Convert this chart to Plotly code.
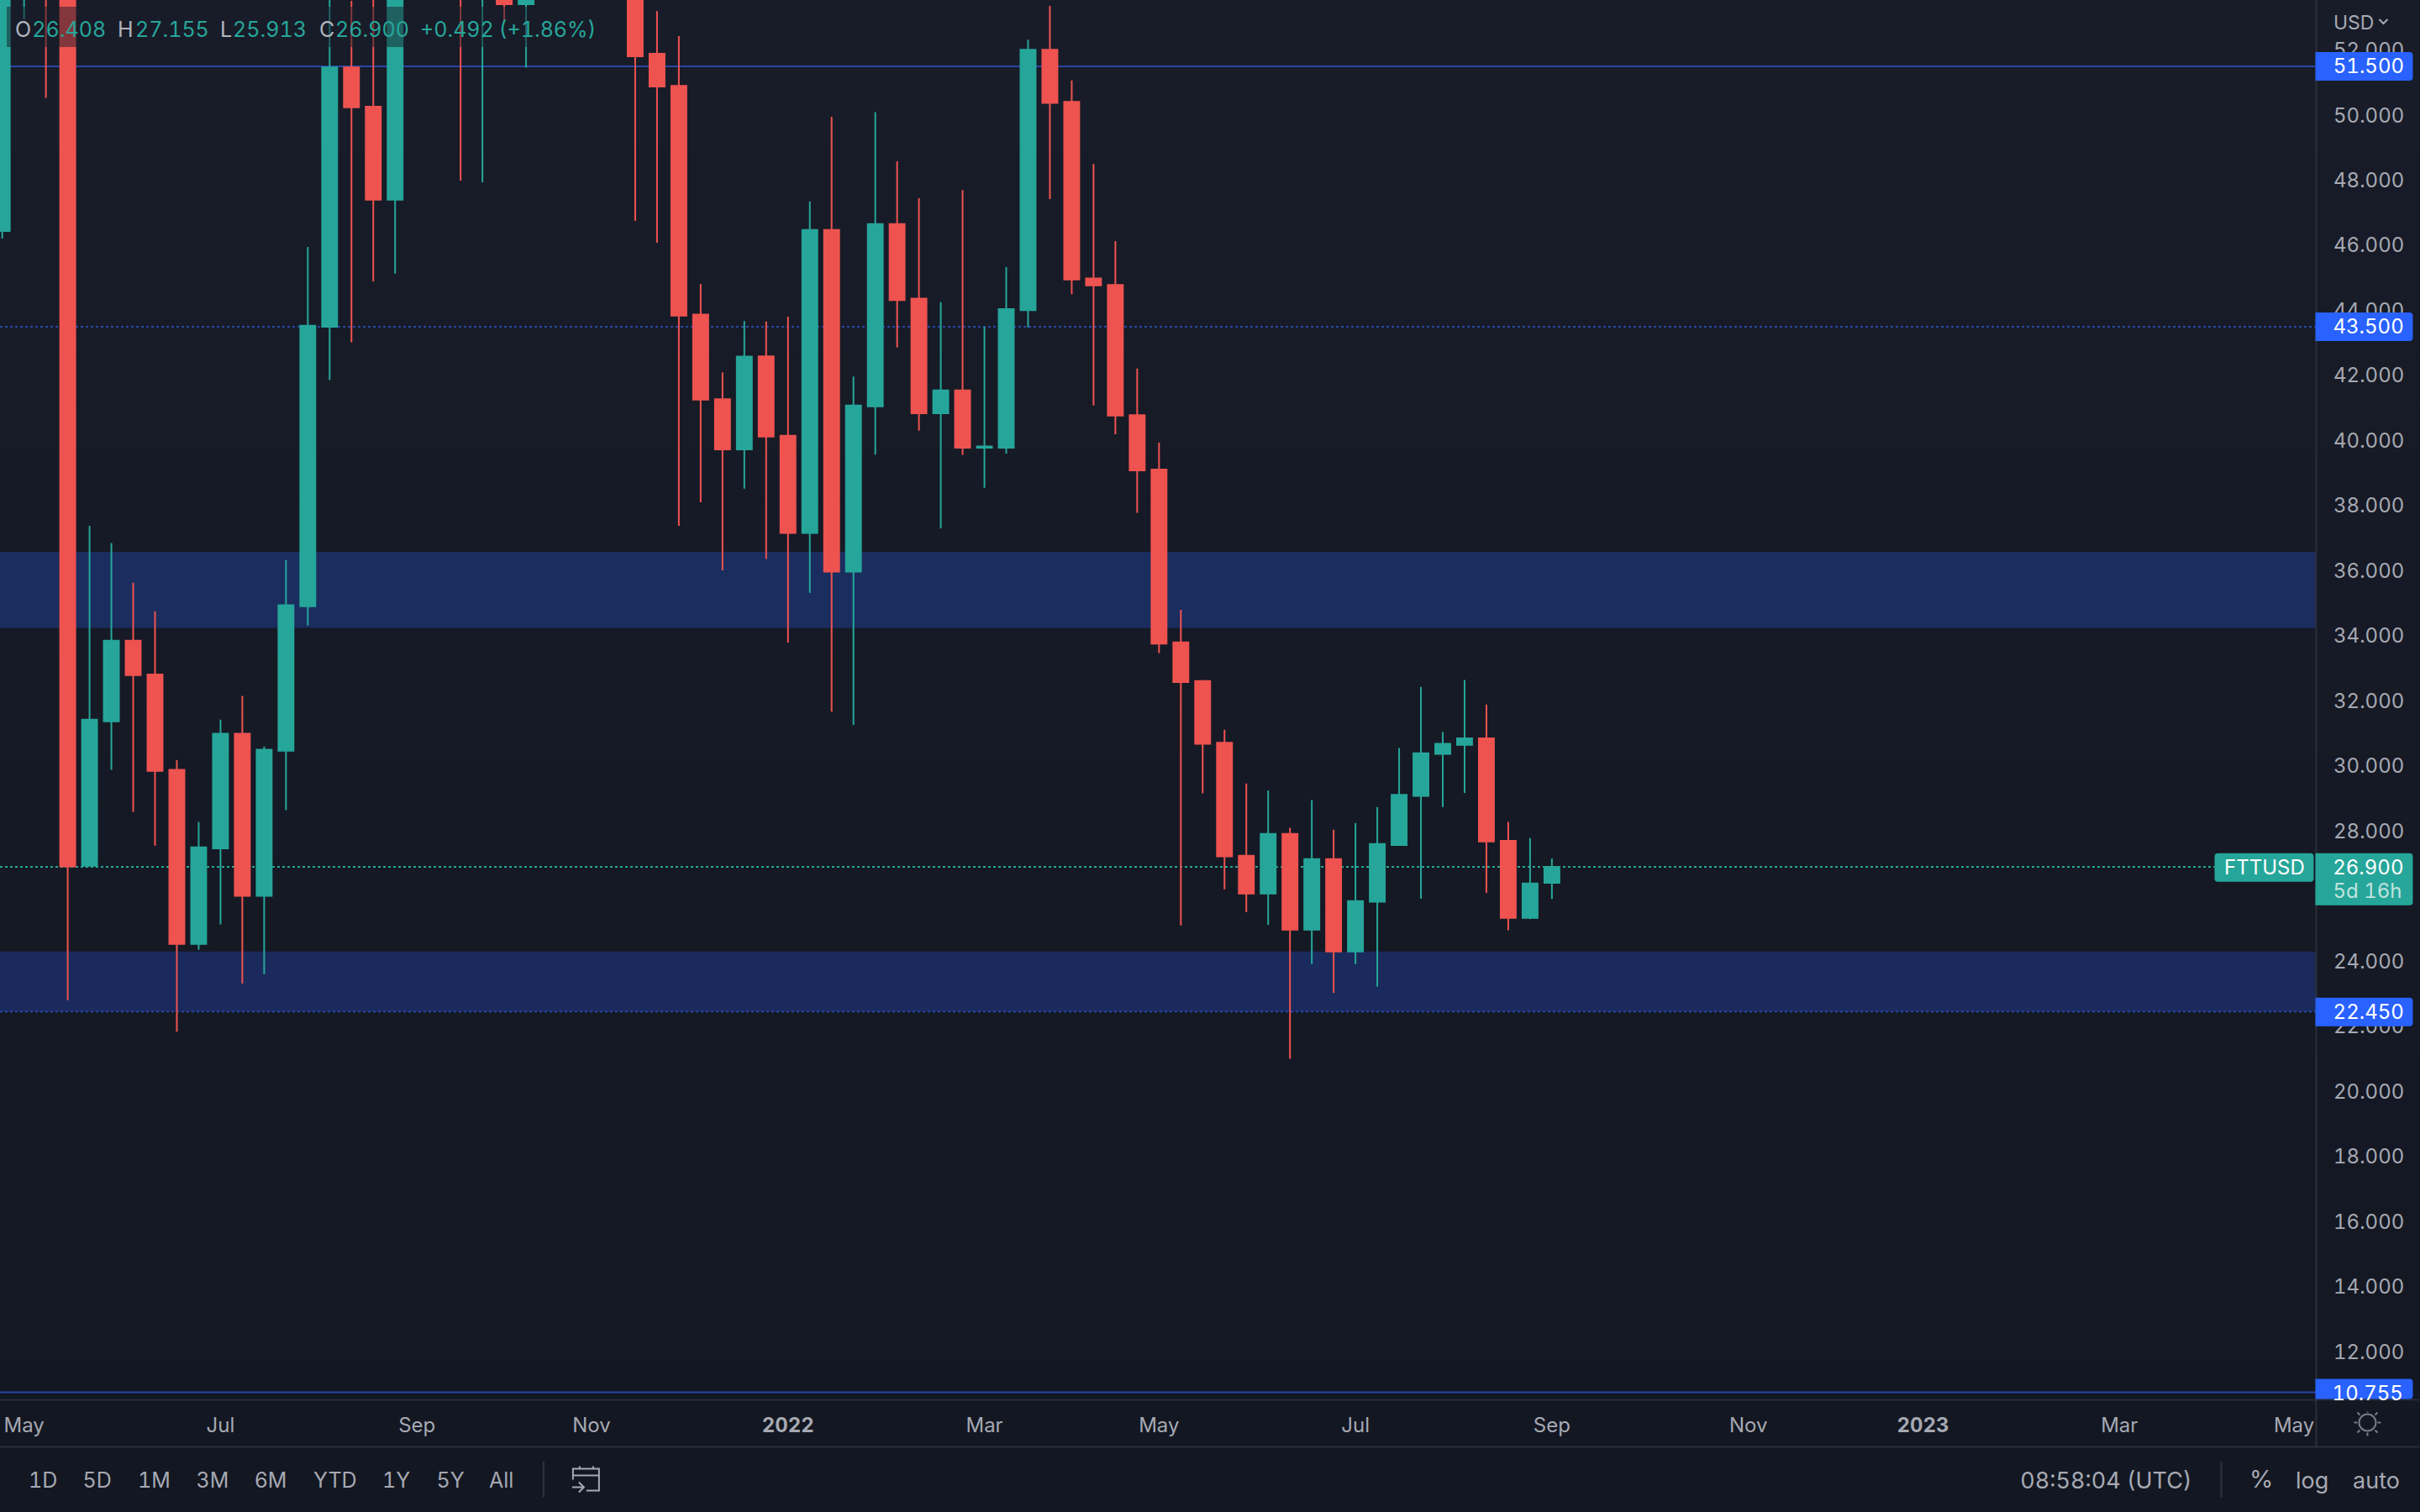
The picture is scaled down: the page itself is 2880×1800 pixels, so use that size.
import plotly.graph_objects as go

# Weekly candles that are at least partly inside the view (USD). Parts above the top edge are estimates.
dates = ["2021-04-19","2021-04-26","2021-05-03","2021-05-10","2021-05-17","2021-05-24","2021-05-31","2021-06-07","2021-06-14","2021-06-21","2021-06-28","2021-07-05","2021-07-12","2021-07-19","2021-07-26","2021-08-02","2021-08-09","2021-08-16","2021-08-23",
 "2021-09-13","2021-09-20","2021-09-27","2021-10-04",
 "2021-11-08","2021-11-15","2021-11-22","2021-11-29","2021-12-06","2021-12-13","2021-12-20","2021-12-27","2022-01-03","2022-01-10","2022-01-17","2022-01-24","2022-01-31","2022-02-07","2022-02-14","2022-02-21","2022-02-28","2022-03-07","2022-03-14","2022-03-21","2022-03-28","2022-04-04","2022-04-11","2022-04-18","2022-04-25","2022-05-02","2022-05-09","2022-05-16","2022-05-23","2022-05-30","2022-06-06","2022-06-13","2022-06-20","2022-06-27","2022-07-04","2022-07-11","2022-07-18","2022-07-25","2022-08-01","2022-08-08","2022-08-15","2022-08-22","2022-08-29"]
opens = [46.44,54.0,56.0,55.5,26.93,31.37,33.85,32.81,29.88,24.53,27.47,30.99,26.01,30.47,34.91,43.50,51.47,50.26,47.40,
 55.5,54.0,54.2,53.41,
 54.0,51.89,50.90,43.87,41.27,39.73,42.59,40.15,37.16,46.47,35.97,41.05,46.65,44.36,40.84,41.54,39.78,39.78,44.01,52.01,50.41,44.98,44.78,40.78,39.11,33.80,32.61,30.71,27.24,26.08,27.91,24.97,27.14,24.30,25.83,27.57,29.08,30.37,30.65,30.85,27.70,25.33,26.408]
highs = [54.5,55.5,57.0,56.0,37.38,36.85,35.63,34.75,30.18,28.28,31.42,32.15,30.60,36.33,45.95,54.5,53.51,54.5,55.0,
 56.0,56.0,55.0,55.0,
 55.0,53.20,52.43,44.81,42.10,43.67,43.66,43.81,47.35,49.95,41.97,50.09,48.58,47.45,44.25,47.70,43.50,45.33,52.32,53.36,51.07,48.50,46.13,42.21,39.94,34.80,32.64,31.11,29.46,29.25,28.10,28.95,28.04,28.25,28.74,30.55,32.43,31.04,32.64,31.89,28.28,27.78,27.155]
lows = [46.21,52.95,50.53,22.80,26.93,29.88,28.59,27.55,21.83,24.35,25.13,23.32,23.60,28.64,34.32,41.86,43.02,44.89,45.13,
 47.99,47.94,52.84,51.46,
 46.75,46.08,37.38,38.10,36.01,38.52,36.36,33.79,35.32,31.67,31.26,39.57,42.86,40.30,37.30,39.56,38.55,39.60,43.48,47.42,44.50,41.08,40.19,37.78,33.47,25.10,29.16,26.21,25.51,25.12,21.00,23.91,23.03,23.91,23.22,27.57,25.92,28.74,29.17,26.10,24.95,25.29,25.913]
closes = [54.0,55.0,54.5,26.91,31.42,33.85,32.79,29.85,24.53,27.50,30.99,26.01,30.50,34.94,43.53,51.47,50.24,47.40,54.2,
 54.0,55.5,53.41,54.2,
 51.81,50.88,43.84,41.26,39.73,42.58,40.12,37.16,46.47,35.97,41.08,46.65,44.32,40.84,41.54,39.78,39.82,44.04,52.01,50.38,44.95,44.77,40.77,39.08,33.76,32.58,30.68,27.22,26.08,27.91,24.97,27.14,24.30,25.85,27.60,29.11,30.39,30.68,30.85,27.68,25.33,26.39,26.900]

price_ticks = [12,14,16,18,20,22,24,26,28,30,32,34,36,38,40,42,44,46,48,50,52]
time_tick_dates = ["2021-04-26","2021-06-28","2021-08-30","2021-10-25","2021-12-27","2022-02-28","2022-04-25","2022-06-27","2022-08-29","2022-10-31","2022-12-26","2023-02-27","2023-04-24"]
time_tick_text = ["May","Jul","Sep","Nov","<b>2022</b>","Mar","May","Jul","Sep","Nov","<b>2023</b>","Mar","May"]
zones = [(34.24,36.58,"#1b2d5f"),(22.45,24.30,"#1a2a5c")]
solid_levels = [51.5,10.755]
dotted_levels = [43.5,22.45]
last_price = 26.9
toolbar_left = [("1D",51),("5D",116),("1M",184),("3M",253),("6M",322),("YTD",399),("1Y",472),("5Y",536),("All",597)]
ohlc_parts = [("O",17,"#b2b5be"),("26.408",39,"#26a69a"),("H",139,"#b2b5be"),("27.155",168,"#26a69a"),("L",261,"#b2b5be"),("25.913",281,"#26a69a"),("C",379,"#b2b5be"),("26.900",400,"#26a69a"),("+0.492",500,"#26a69a"),("(+1.86%)",597,"#26a69a")]

W, H = 2756.5, 1666.5
FONT = "Inter"
GREY = "#a6a9b2"
BLUE = "#2962ff"
TEAL = "#26a69a"
LINE = "#2a2e39"
LEVEL = "#2946a5"
xp = lambda x: x / W
yp = lambda y: 1 - y / H

shapes, notes = [], []

# background gradient
steps = 30
for k in range(steps):
    t = (k + .5) / steps
    c = (round(24 - 5*t), round(28 - 5*t), round(40 - 6*t))
    shapes.append(dict(type="rect", xref="paper", yref="paper", x0=0, x1=xp(2880),
                       y0=yp(1800*k/steps), y1=yp(1800*(k+1)/steps), layer="below",
                       fillcolor=f"rgb{c}", line_width=0))
for lo, hi, col in zones:
    shapes.append(dict(type="rect", xref="paper", yref="y", x0=0, x1=1, y0=lo, y1=hi, layer="below", fillcolor=col, line_width=0))
for v in solid_levels:
    shapes.append(dict(type="line", xref="paper", yref="y", x0=0, x1=1, y0=v, y1=v, layer="below", line=dict(color=LEVEL, width=2)))
for v in dotted_levels:
    shapes.append(dict(type="line", xref="paper", yref="y", x0=0, x1=1, y0=v, y1=v, layer="below", line=dict(color=LEVEL, width=2, dash="3px,3px")))
shapes.append(dict(type="line", xref="paper", yref="y", x0=0, x1=xp(2636), y0=last_price, y1=last_price, layer="below", line=dict(color=TEAL, width=2, dash="3px,3px")))

def line_px(x0, y0, x1, y1, col=LINE, w=2):
    shapes.append(dict(type="line", xref="paper", yref="paper", x0=xp(x0), x1=xp(x1), y0=yp(y0), y1=yp(y1), layer="above", line=dict(color=col, width=w)))

def path_px(points, col=None, fill=None, w=2):
    d = ""
    for p in points:
        if isinstance(p, str):
            d += p + " "
        else:
            d += f"{xp(p[0]):.6f},{yp(p[1]):.6f} "
    shapes.append(dict(type="path", xref="paper", yref="paper", path=d.strip(), layer="above",
                       fillcolor=fill or "rgba(0,0,0,0)", line=dict(color=col or "rgba(0,0,0,0)", width=w if col else 0)))

def tag_px(x0, y0, x1, y1, col, r=4, left_round=False):
    l = r if left_round else 0
    path_px(["M",(x0+l,y0),"L",(x1-r,y0),"Q",(x1,y0),(x1,y0+r),"L",(x1,y1-r),"Q",(x1,y1),(x1-r,y1),"L",(x0+l,y1)]
            + (["Q",(x0,y1),(x0,y1-l),"L",(x0,y0+l),"Q",(x0,y0),(x0+l,y0)] if left_round else []) + ["Z"], fill=col)

def text_px(s, x, y, col=GREY, size=24, anchor="left", bg=None):
    notes.append(dict(text=s, xref="paper", yref="paper", x=xp(x), y=yp(y), xanchor=anchor, yanchor="middle",
                      showarrow=False, font=dict(family=FONT, size=size, color=col), bgcolor=bg, borderpad=0))

# legend strip
shapes.append(dict(type="rect", xref="paper", yref="paper", x0=xp(8), x1=xp(712), y0=yp(8), y1=yp(56), layer="above",
                   fillcolor="rgba(24,28,40,0.5)", line_width=0))

# frame
line_px(0, 1667, 2880, 1667)
line_px(0, 1723, 2880, 1723)
line_px(2757, 0, 2757, 1723)

# tags
tag_px(2756, 62, 2872, 96, BLUE)
tag_px(2756, 372, 2872, 406, BLUE)
tag_px(2756, 1188, 2872, 1222, BLUE)
tag_px(2756, 1642, 2872, 1666, BLUE)
tag_px(2756, 1016, 2872, 1078, TEAL)
tag_px(2636, 1016, 2754, 1050, TEAL, left_round=True)

# chevron, calendar, sun, separators
path_px(["M",(2832,23),"L",(2837,28),"L",(2842,23)], col="#a6a9b2", w=2)
line_px(647, 1740, 647, 1783, col="#2f333e", w=2)
line_px(2644, 1740, 2644, 1783, col="#2f333e", w=2)
cal = "#a6a9b2"
path_px(["M",(682,1762),"L",(682,1749),"L",(713,1749),"L",(713,1775),"L",(698,1775)], col=cal, w=2)
line_px(682, 1757, 713, 1757, col=cal)
line_px(690, 1746, 690, 1749, col=cal)
line_px(706, 1746, 706, 1749, col=cal)
path_px(["M",(681,1771),"L",(695,1771),"M",(689,1765),"L",(695,1771),"L",(689,1777)], col=cal, w=2)
shapes.append(dict(type="circle", xref="paper", yref="paper", x0=xp(2808), x1=xp(2828), y0=yp(1684), y1=yp(1704), layer="above", line=dict(color="#787b86", width=2)))
for dx, dy, ex, ey in [(0,-12,0,-16),(0,12,0,16),(-12,0,-16,0),(12,0,16,0),(-9,-9,-12,-12),(9,-9,12,-12),(-9,9,-12,12),(9,9,12,12)]:
    line_px(2818+dx, 1694+dy, 2818+ex, 1694+ey, col="#787b86")

# texts
for s, x, c in ohlc_parts:
    text_px(s, x, 35, c, 25)
text_px("USD", 2777, 27, GREY, 23)
for s, x, y in [("51.500",2781,79),("43.500",2778,389),("22.450",2778,1205),("10.755",2781,1659)]:
    text_px(s, x, y, "#ffffff")
# the 10.755 tag is cut off by the time axis
notes.append(dict(text=" ", xref="paper", yref="paper", x=xp(2758), y=yp(1668), xanchor="left", yanchor="top", width=122, height=12, showarrow=False, bgcolor="#141823", borderpad=0, font=dict(size=2)))
text_px("FTTUSD", 2695, 1033, "#ffffff", 24, "center")
text_px("26.900", 2778, 1033, "#ffffff")
text_px("5d 16h", 2780, 1061, "#bfe3df", 24)
for s, x in toolbar_left:
    text_px(s, x, 1763, GREY, 25, "center")
text_px("08:58:04 (UTC)", 2507, 1763, GREY, 27, "center")
text_px("%", 2691, 1761, GREY, 29, "center")
text_px("log", 2752, 1763, GREY, 27, "center")
text_px("auto", 2829, 1763, GREY, 27, "center")

fig = go.Figure(go.Candlestick(
    x=dates, open=opens, high=highs, low=lows, close=closes,
    increasing=dict(line=dict(color=TEAL, width=2), fillcolor=TEAL),
    decreasing=dict(line=dict(color="#ef5350", width=2), fillcolor="#ef5350"),
    whiskerwidth=0, showlegend=False, hoverinfo="skip",
))
fig.update_layout(
    width=2880, height=1800, margin=dict(l=0, r=2880-W, t=0, b=1800-H),
    paper_bgcolor="#141823", plot_bgcolor="rgba(0,0,0,0)",
    boxgap=0.31, boxgroupgap=0,
    shapes=shapes, annotations=notes, showlegend=False,
    font=dict(family=FONT, color=GREY, size=24),
    xaxis=dict(type="date", range=["2021-04-18 06:44", "2023-05-01"], rangeslider=dict(visible=False),
               tickmode="array", tickvals=time_tick_dates, ticktext=time_tick_text, showgrid=False, zeroline=False,
               showline=False, ticks="", tickfont=dict(family=FONT, size=24, color=GREY), ticklabelstandoff=14, tickangle=0),
    yaxis=dict(side="right", range=[10.533, 53.539], tickmode="array", tickvals=price_ticks, tickformat=".3f",
               showgrid=False, zeroline=False, showline=False, ticks="", tickfont=dict(family=FONT, size=24, color=GREY),
               ticklabelstandoff=20),
)
fig.write_html("out.html", config=dict(displayModeBar=False),
               post_script="document.body.style.margin='0';"
                           "document.head.insertAdjacentHTML('beforeend','<style>svg text{font-variant-numeric:tabular-nums;font-feature-settings:\"tnum\"}</style>');")
